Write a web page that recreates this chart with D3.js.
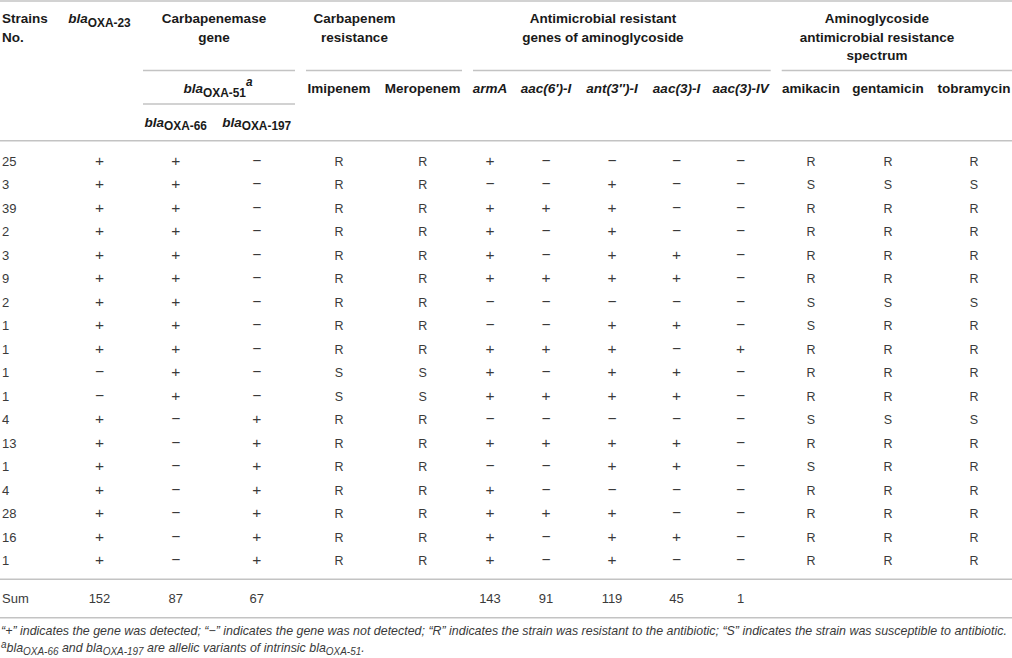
<!DOCTYPE html>
<html>
<head>
<meta charset="utf-8">
<script src="https://cdn.jsdelivr.net/npm/d3@7"></script>
<style>
  body { margin: 0; background: #fff; }
  svg { display: block; font-family: "Liberation Sans", Arial, Helvetica, sans-serif; }
</style>
</head>
<body>
<svg id="table" width="1012" height="658"></svg>
<script>
// table values, one array per column ("-" is drawn as a minus sign)
const strainsNo  = [25, 3, 39, 2, 3, 9, 2, 1, 1, 1, 1, 4, 13, 1, 4, 28, 16, 1];
const blaOXA23   = "+++++++++--+++++++".split("");
const blaOXA66   = "+++++++++++-------".split("");
const blaOXA197  = "-----------+++++++".split("");
const imipenem   = "RRRRRRRRRSSRRRRRRR".split("");
const meropenem  = "RRRRRRRRRSSRRRRRRR".split("");
const armA       = "+-++++--+++-+-++++".split("");
const aac6I      = "--+--+--+-+-+--+--".split("");
const ant3I      = "-+++++-++++-++-+++".split("");
const aac3I      = "----++-+-++-++--+-".split("");
const aac3IV     = "--------+---------".split("");
const amikacin   = "RSRRRRSSRRRSRSRRRR".split("");
const gentamicin = "RSRRRRSRRRRSRRRRRR".split("");
const tobramycin = "RSRRRRSRRRRSRRRRRR".split("");
const sums = ["152", "87", "67", "", "", "143", "91", "119", "45", "1", "", "", ""];

const colKeys = ["oxa23", "oxa66", "oxa197", "imi", "mero", "armA", "aac6", "ant3",
                 "aac3I", "aac3IV", "amik", "gent", "tobra"];
const colData = [blaOXA23, blaOXA66, blaOXA197, imipenem, meropenem, armA, aac6I,
                 ant3I, aac3I, aac3IV, amikacin, gentamicin, tobramycin];

const svg = d3.select("#table");
const W = 1012;

let x = d3.scaleOrdinal()
  .domain(colKeys)
  .range([99.5, 175.7, 256.7, 339, 422.7, 490, 546, 612, 676.5, 740.6, 811, 888, 974]);

let y = d3.scalePoint()
  .domain(d3.range(strainsNo.length))
  .range([166, 565]);

const headColor = "#1a1a1a", bodyColor = "#3a3a3a", ruleColor = "#c3c3c3";

// rich text helper: parts = [{t, i, sub, sup}]
function rich(parent, px, py, parts, opts) {
  const size = opts.size || 13.5;
  const t = parent.append("text")
    .attr("x", px).attr("y", py)
    .attr("text-anchor", opts.anchor || "middle")
    .attr("font-size", size)
    .attr("font-weight", opts.weight || "bold")
    .attr("font-style", opts.italic ? "italic" : null)
    .attr("fill", opts.fill || headColor);
  let shift = 0;
  parts.forEach(function (p) {
    const target = p.sub ? (opts.subDy || 3.5) : p.sup ? (opts.supDy || -6.5) : 0;
    const ts = t.append("tspan").text(p.t).attr("dy", target - shift);
    shift = target;
    if (p.sub || p.sup) ts.attr("font-size", size * (opts.subScale || 0.88));
    if (p.i) ts.attr("font-style", "italic");
  });
  return t;
}

// rules
const rules = svg.append("g").attr("stroke", ruleColor).attr("stroke-width", 1.6);
function rule(x1, x2, yy) {
  rules.append("line").attr("x1", x1).attr("x2", x2).attr("y1", yy).attr("y2", yy);
}
rule(0, W, 1);
rule(143, 295, 70.5);
rule(306, 462, 70.5);
rule(473, 770.7, 70.5);
rule(781.7, W, 70.5);
rule(143, 295, 104);
rule(0, W, 140.7);
rule(0, W, 579.3);
rule(0, W, 617.7);

// header
const head = svg.append("g");
rich(head, 2, 23.3, [{ t: "Strains" }], { anchor: "start" });
rich(head, 2, 41.7, [{ t: "No." }], { anchor: "start" });
rich(head, x("oxa23"), 23.3, [{ t: "bla", i: true }, { t: "OXA-23", sub: true }], {});
rich(head, 214, 23.3, [{ t: "Carbapenemase" }], {});
rich(head, 214, 41.7, [{ t: "gene" }], {});
rich(head, 354.5, 23.3, [{ t: "Carbapenem" }], {});
rich(head, 354.5, 41.7, [{ t: "resistance" }], {});
rich(head, 603, 23.3, [{ t: "Antimicrobial resistant" }], {});
rich(head, 603, 41.7, [{ t: "genes of aminoglycoside" }], {});
rich(head, 877, 23.3, [{ t: "Aminoglycoside" }], {});
rich(head, 877, 41.7, [{ t: "antimicrobial resistance" }], {});
rich(head, 877, 60.2, [{ t: "spectrum" }], {});

rich(head, 218, 93.3, [{ t: "bla", i: true }, { t: "OXA-51", sub: true }, { t: "a", sup: true, i: true }],
  { supDy: -7.5 });
rich(head, x("imi"), 93.3, [{ t: "Imipenem" }], {});
rich(head, x("mero"), 93.3, [{ t: "Meropenem" }], {});
rich(head, x("armA"), 93.3, [{ t: "armA" }], { italic: true });
rich(head, x("aac6"), 93.3, [{ t: "aac(6\u2032)-I" }], { italic: true });
rich(head, x("ant3"), 93.3, [{ t: "ant(3\u2033)-I" }], { italic: true });
rich(head, x("aac3I"), 93.3, [{ t: "aac(3)-I" }], { italic: true });
rich(head, x("aac3IV"), 93.3, [{ t: "aac(3)-IV" }], { italic: true });
rich(head, x("amik"), 93.3, [{ t: "amikacin" }], {});
rich(head, x("gent"), 93.3, [{ t: "gentamicin" }], {});
rich(head, x("tobra"), 93.3, [{ t: "tobramycin" }], {});

rich(head, x("oxa66"), 126.7, [{ t: "bla", i: true }, { t: "OXA-66", sub: true }], {});
rich(head, x("oxa197"), 126.7, [{ t: "bla", i: true }, { t: "OXA-197", sub: true }], {});

// body rows
const rows = strainsNo.map((n, i) => ({ n: n, cells: colData.map(c => c[i]) }));

const body = svg.append("g")
  .attr("font-size", 13)
  .attr("fill", bodyColor);

const rowG = body.selectAll("g.row")
  .data(rows)
  .join("g")
  .attr("class", "row")
  .attr("transform", (d, i) => "translate(0," + y(i) + ")");

rowG.append("text")
  .attr("x", 2)
  .text(d => d.n);

const isSign = v => v === "+" || v === "-";

rowG.selectAll("text.cell")
  .data(d => d.cells.map((v, j) => ({ key: colKeys[j], v: v })))
  .join("text")
  .attr("class", "cell")
  .attr("x", d => x(d.key))
  .attr("text-anchor", "middle")
  .attr("font-size", d => isSign(d.v) ? 15.5 : 12.5)
  .attr("font-weight", d => isSign(d.v) ? 300 : null)
  .text(d => d.v === "-" ? "\u2212" : d.v);

// sum row
const sumG = body.append("g").attr("transform", "translate(0,603)");
sumG.append("text").attr("x", 2).text("Sum");
sumG.selectAll("text.sum")
  .data(sums.map((v, j) => ({ key: colKeys[j], v: v })).filter(d => d.v !== ""))
  .join("text")
  .attr("class", "sum")
  .attr("x", d => x(d.key))
  .attr("text-anchor", "middle")
  .text(d => d.v);

// footnotes
const foot = svg.append("g")
  .style("font-family", "'Liberation Sans Narrow', 'Liberation Sans', Arial, sans-serif");
const f1 = foot.append("g").attr("transform", "translate(1,635)");
const f1t = rich(f1, 0, 0, [{
  t: "\u201c+\u201d indicates the gene was detected; \u201c\u2212\u201d indicates the gene was not detected; " +
     "\u201cR\u201d indicates the strain was resistant to the antibiotic; " +
     "\u201cS\u201d indicates the strain was susceptible to antibiotic."
}], { anchor: "start", weight: "normal", italic: true, size: 12.5, fill: bodyColor });
const f2 = foot.append("g").attr("transform", "translate(1,652)");
rich(f2, 0, 0, [
  { t: "a", sup: true }, { t: "bla" }, { t: "OXA-66", sub: true }, { t: " and bla" },
  { t: "OXA-197", sub: true }, { t: " are allelic variants of intrinsic bla" },
  { t: "OXA-51", sub: true }, { t: "." }
], { anchor: "start", weight: "normal", italic: true, size: 12.5, fill: bodyColor,
     subDy: 2.5, supDy: -4.5, subScale: 0.8 });

// fit footnote line 1 to the table width, apply same squeeze to line 2
const k = 1007 / f1t.node().getComputedTextLength();
f1.attr("transform", "translate(1,635) scale(" + k + ",1)");
f2.attr("transform", "translate(1,652) scale(" + k + ",1)");
</script>
</body>
</html>
